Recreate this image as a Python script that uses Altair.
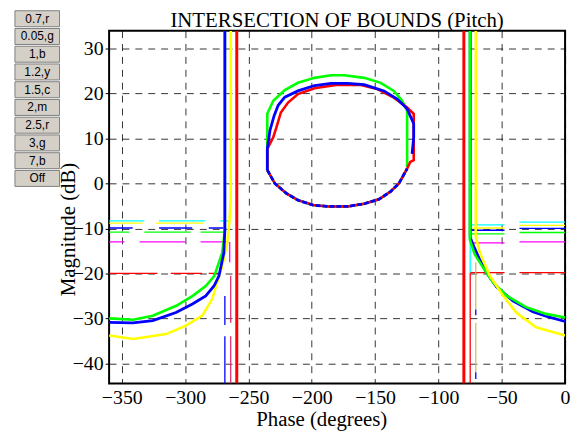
import altair as alt
import pandas as pd

# ---------------- data ----------------
x_ticks = [-350, -300, -250, -200, -150, -100, -50, 0]
y_ticks = [-40, -30, -20, -10, 0, 10, 20, 30]
x_domain = [-360, 0]
y_domain = [-44.5, 34.0]

chart_title = "INTERSECTION OF BOUNDS (Pitch)"
button_labels = ["0.7,r", "0.05,g", "1,b", "1.2,y", "1.5,c", "2,m", "2.5,r", "3,g", "7,b", "Off"]

# open-loop bounds, left branch
left_blue_phase = [-268.6, -268.6, -269.4, -273.3, -277.2, -283.7, -294.2, -307.2, -325.5, -341.2, -360.0]
left_blue_mag = [34.0, -10.3, -15.4, -20.6, -22.8, -25.0, -26.8, -28.7, -30.5, -31.0, -30.9]
left_green_phase = [-268.6, -268.6, -270.7, -277.0, -283.7, -294.0, -307.0, -325.5, -341.0, -360.0]
left_green_mag = [34.0, -10.3, -15.4, -20.6, -22.8, -25.0, -27.2, -29.4, -30.3, -30.0]
left_yellow_phase = [-263.9, -264.0, -264.9, -266.8, -270.7, -274.7, -278.6, -286.4, -299.4, -315.0, -341.0, -360.0]
left_yellow_mag = [34.0, -3.7, -8.1, -13.2, -18.4, -22.0, -25.7, -29.4, -31.6, -33.5, -34.6, -33.8]

# open-loop bounds, right branch
right_green_phase = [-75.2, -75.2, -71.3, -64.7, -56.8, -46.4, -30.8, -15.1, 0.0]
right_green_mag = [34.0, -12.5, -15.8, -18.7, -22.0, -24.9, -27.5, -29.0, -29.8]
right_blue_phase = [-74.9, -74.9, -72.0, -67.4, -62.1, -54.3, -41.2, -25.5, -15.1, 0.0]
right_blue_mag = [34.0, -12.0, -14.0, -16.9, -19.8, -22.9, -26.1, -28.5, -29.5, -30.7]
right_yellow_phase = [-70.5, -70.5, -67.3, -59.5, -49.0, -38.6, -22.9, 0.0]
right_yellow_mag = [34.0, -11.8, -15.4, -20.5, -24.9, -28.7, -32.0, -33.8]

# full-height red bounds
red_bound_phase = [-259.2, -79.9]

# closed bounds (ellipse-like contour)
lower_arc_phase = [-235.1, -229.1, -220.0, -210.9, -199.1, -187.4, -171.7, -158.6, -146.9, -137.8, -131.2, -124.7]
lower_arc_mag = [3.0, 0.0, -2.2, -3.7, -4.8, -5.1, -5.1, -4.5, -3.5, -1.8, 0.0, 3.3]
blue_loop_phase = [-120.8, -119.5, -119.5, -124.7, -132.5, -143.0, -158.6, -171.7, -184.8, -197.8, -210.9, -221.3, -226.5, -229.7, -233.0, -235.1, -235.1]
blue_loop_mag = [6.6, 10.3, 13.3, 16.6, 18.8, 20.6, 22.0, 22.3, 22.3, 21.8, 20.6, 19.2, 17.4, 15.1, 11.8, 7.7, 3.0]
red_loop_phase = [-122.2, -119.5, -119.5, -124.7, -135.2, -148.2, -161.3, -179.5, -197.8, -210.9, -218.7, -224.4, -227.9, -230.4, -235.1, -235.1]
red_loop_mag = [4.8, 5.2, 15.5, 16.9, 19.1, 21.0, 21.9, 22.0, 21.2, 19.9, 18.0, 15.8, 12.5, 10.3, 7.7, 3.0]
green_loop_phase = [-124.7, -124.7, -128.6, -135.2, -145.6, -158.6, -174.3, -184.8, -197.8, -210.9, -221.3, -230.4, -235.1, -235.1]
green_loop_mag = [3.7, 16.2, 18.4, 20.6, 22.4, 23.5, 24.1, 24.1, 23.5, 22.4, 20.8, 18.4, 15.5, 3.0]

# broken horizontal bound pieces
hseg_color = ["cyan", "cyan", "cyan", "yellow", "yellow", "blue", "blue", "blue",
              "green", "green", "green", "magenta", "magenta", "magenta", "red", "red", "red",
              "cyan", "cyan", "yellow", "yellow", "blue", "blue", "green", "green",
              "magenta", "magenta", "red", "red"]
hseg_mag = [-8.3, -8.3, -8.3, -8.8, -8.8, -9.9, -9.9, -9.9,
            -10.8, -10.8, -10.8, -13.0, -13.0, -13.0, -20.0, -20.0, -20.0,
            -9.2, -8.6, -9.9, -9.3, -10.4, -10.0, -11.2, -10.9,
            -13.2, -13.0, -19.8, -19.8]
hseg_start = [-360.0, -320.5, -272.2, -360.0, -323.1, -360.0, -320.5, -281.3,
              -360.0, -332.2, -287.8, -360.0, -335.9, -287.8, -360.0, -311.3, -281.3,
              -73.8, -36.0, -73.0, -36.0, -73.8, -36.0, -73.8, -36.0,
              -73.8, -36.0, -74.9, -36.0]
hseg_end = [-332.2, -283.9, -265.7, -333.6, -285.3, -341.4, -294.4, -269.6,
            -344.0, -295.7, -269.6, -347.9, -299.6, -265.7, -321.8, -286.6, -273.5,
            -47.8, 0.0, -47.8, 0.0, -47.8, 0.0, -47.8, 0.0,
            -47.8, 0.0, -47.8, 0.0]

# broken vertical bound pieces
vseg_color = ["blue", "blue", "crimson", "crimson", "magenta", "red", "cyan", "khaki", "khaki", "blue", "blue"]
vseg_phase = [-268.6, -268.6, -264.0, -264.0, -264.8, -74.9, -74.9, -70.5, -70.5, -70.5, -70.5]
vseg_start = [-25.0, -34.0, -20.5, -34.0, -13.0, -19.8, -13.2, -17.5, -31.0, -28.0, -42.0]
vseg_end = [-31.5, -44.5, -31.0, -44.5, -17.5, -44.5, -19.8, -28.0, -42.0, -29.3, -43.5]

# ---------------- styling ----------------
palette = {"blue": "#0000ff", "green": "#00ff00", "yellow": "#ffff00", "red": "#ff0000",
           "cyan": "#00ffff", "magenta": "#ff00ff", "crimson": "#e0306a", "khaki": "#c8c464"}
serif = "Liberation Serif"

xs = alt.Scale(domain=x_domain, nice=False, zero=False)
ys = alt.Scale(domain=y_domain, nice=False, zero=False)

x_axis = alt.Axis(values=x_ticks, title="Phase (degrees)", grid=True, gridDash=[7, 6],
                  gridColor="black", gridOpacity=0.8, domain=False, ticks=False,
                  labelFont=serif, labelFontSize=20, labelColor="black", labelPadding=4,
                  labelFlush=False, labelOverlap=False, format="d",
                  titleFont=serif, titleFontSize=21, titleFontWeight="normal", titleColor="black",
                  titleX=214, titleY=42, titleBaseline="alphabetic", titleAlign="center")
y_axis = alt.Axis(values=y_ticks, title="Magnitude (dB)", grid=True, gridDash=[7, 6],
                  gridColor="black", gridOpacity=0.8, domain=False, ticks=True, tickSize=4,
                  tickColor="black", labelFont=serif, labelFontSize=20, labelColor="black",
                  labelPadding=2, labelFlush=False, labelOverlap=False, format="d",
                  titleFont=serif, titleFontSize=21, titleFontWeight="normal", titleColor="black",
                  titleX=-41, titleY=200, titleAngle=-90, titleBaseline="middle", titleAlign="center")

X = alt.X("phase:Q", scale=xs, axis=x_axis)
Y = alt.Y("mag:Q", scale=ys, axis=y_axis)


def curve(phase, mag, color, width=2.6, dash=None):
    df = pd.DataFrame({"phase": phase, "mag": mag, "i": list(range(len(phase)))})
    kw = dict(color=palette[color], strokeWidth=width, clip=True)
    if dash:
        kw["strokeDash"] = dash
    return alt.Chart(df).mark_line(**kw).encode(x=X, y=Y, order="i:Q")


hseg_df = pd.DataFrame({"phase": hseg_start, "phase_end": hseg_end, "mag": hseg_mag, "c": hseg_color})
vseg_df = pd.DataFrame({"phase": vseg_phase, "mag": vseg_start, "mag_end": vseg_end, "c": vseg_color})
cscale = alt.Scale(domain=list(palette.keys()), range=list(palette.values()))

hsegs = alt.Chart(hseg_df).mark_rule(strokeWidth=1.3, clip=True).encode(
    x=X, x2="phase_end:Q", y=Y, color=alt.Color("c:N", scale=cscale, legend=None))
vsegs = alt.Chart(vseg_df).mark_rule(strokeWidth=1.3, clip=True).encode(
    x=X, y=Y, y2="mag_end:Q", color=alt.Color("c:N", scale=cscale, legend=None))

red_rules = alt.Chart(pd.DataFrame({"phase": red_bound_phase})).mark_rule(
    color=palette["red"], strokeWidth=3, clip=True).encode(x=X)

main = alt.layer(
    hsegs, vsegs,
    curve(left_green_phase, left_green_mag, "green"),
    curve(left_yellow_phase, left_yellow_mag, "yellow"),
    curve(left_blue_phase, left_blue_mag, "blue", 2.8),
    curve(right_blue_phase, right_blue_mag, "blue", 2.8),
    curve(right_green_phase, right_green_mag, "green"),
    curve(right_yellow_phase, right_yellow_mag, "yellow"),
    red_rules,
    curve(green_loop_phase + lower_arc_phase, green_loop_mag + lower_arc_mag, "green"),
    curve(lower_arc_phase + red_loop_phase, lower_arc_mag + red_loop_mag, "red"),
    curve(blue_loop_phase, blue_loop_mag, "blue", 2.8),
    curve(lower_arc_phase, lower_arc_mag, "blue", 2.8, [5, 2]),
)

# control buttons at the upper left
btn_df = pd.DataFrame({"label": button_labels})
by = alt.Y("label:N", sort=button_labels, axis=None,
           scale=alt.Scale(domain=button_labels, range=[-21, 158], paddingInner=0.1, paddingOuter=0.05))
buttons = alt.Chart(btn_df).mark_rect(fill="#d4d0c8", stroke="#808080", strokeWidth=1).encode(
    y=by, x=alt.value(-95), x2=alt.value(-50))
btn_text = alt.Chart(btn_df).mark_text(font="Liberation Sans", fontSize=12, color="black").encode(
    y=by, x=alt.value(-72.5), text="label:N")

title_text = alt.Chart(pd.DataFrame({"t": [chart_title]})).mark_text(
    font=serif, fontSize=21, color="black", align="center", baseline="alphabetic").encode(
    text="t:N", x=alt.value(230), y=alt.value(-4))

btn_layer = alt.layer(buttons, btn_text, title_text)

chart = alt.layer(btn_layer, main).resolve_scale(y="independent", x="independent").resolve_axis(
    x="independent", y="independent").properties(
    width=460, height=356,
    autosize=alt.AutoSizeParams(type="none"),
    padding={"left": 102, "top": 21, "right": 8, "bottom": 47},
).configure_view(stroke="black", strokeWidth=2).configure_axis(
    labelFont=serif, titleFont=serif, labelColor="black", titleColor="black"
)

chart.save("out.html", embed_options={"renderer": "svg", "actions": False})
